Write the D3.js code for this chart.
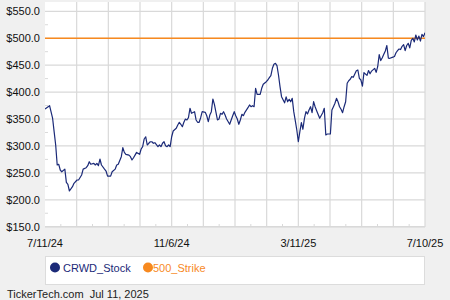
<!DOCTYPE html>
<html>
<head>
<meta charset="utf-8">
<script src="https://cdn.jsdelivr.net/npm/d3@7/dist/d3.min.js"></script>
<style>
  html, body { margin: 0; padding: 0; background: #f0f0f0; }
  svg { display: block; }
  text { font-family: Arial, "Liberation Sans", sans-serif; }
</style>
</head>
<body>
<svg id="chart" width="450" height="300"></svg>
<script>
// ---- data ----
const dayIdx = [0,3,5,6,7,8,9,10,11,13,14,15,16,18,19,21,22,24,25,27,28,29,30,32,33,34,35,36,37,39,40,41,43,44,46,47,48,50,51,
  52,53,55,56,57,58,59,60,62,63,64,65,66,67,68,69,70,71,72,74,75,76,77,78,79,80,81,82,83,84,86,87,88,89,90,91,92,93,94,95,96,98,99,100,101,102,103,105,
  106,107,108,109,110,111,113,114,115,116,117,118,119,121,122,123,124,125,126,127,128,129,130,131,133,134,135,136,137,138,139,140,141,142,143,145,146,147,148,149,150,151,152,153,154,155,
  157,158,159,160,161,162,163,164,165,166,167,168,169,170,171,172,173,174,175,176,177,178,180,182,183,184,185,187,188,189,190,191,192,193,194,195,196,197,198,199,200,201,202,203,204,205,206,207,208,
  209,211,212,213,214,216,217,218,219,220,221,222,223,224,225,226,228,229,230,231,232,233,234,235,236,237,238,239,240,241,242,243,244,245,246,247,248,249];
const price = [368.6,374.7,351,326,301.7,264.6,265.9,255.3,252,257,232.4,228.7,216.3,224.3,230.6,236.7,236.7,246,257,259.6,263.3,270.7,265.9,267.7,264.6,267.7,263.3,275.7,264.6,257,253.4,244,244,252,257,264.6,266,280,296.7,
  288,284.4,283,280,273.9,278,283,288,284.4,294.3,298.6,312.9,317,301.7,304.9,307.8,307.8,304.9,306,298.6,301.7,298.6,304.9,307.8,300.4,298.6,301.7,298.6,317,327.7,332.7,338.9,343.9,340.2,335.7,343.9,350,348.2,352.4,369.9,360.6,363.6,348.2,343.9,343.9,352.4,363.6,362.4,
  356,345,357.4,363.6,387.1,377.3,348.2,350,360.6,358.7,363.6,357.4,350,340.2,348.2,356.1,363.6,356.1,350,340.2,348.2,358.7,356.1,362.4,371,376,372.8,374.7,372.8,407,395.9,395.9,395.9,407,414.4,419.3,422.4,426.7,430.4,444.1,451.6,453.4,449,431.7,410,391.4,
  380,391,382,386.6,382,388.4,363.6,346.9,329.6,307.8,326.4,343.1,330.9,351.3,363.6,359.3,366.7,372.8,361.7,382.1,372.8,365.4,351.3,361.7,369.9,320.3,322.1,322.1,366.7,372.8,379.2,388.4,382.1,372.8,368,361.7,372.8,382.1,416.3,421.1,423.7,428.6,427.4,433.6,439.7,441,425.6,422.4,411,
  436,431,440,434,439,444.1,436.7,447.1,469.5,458.5,463.8,470.2,476.3,486.5,463,462.7,465,466,473,477,480,479,485,488,477,486.5,490.6,482,496,499.8,493,506,496.7,504,494.8,507,503,510];
const strike = 500;
const yTicks = [150, 200, 250, 300, 350, 400, 450, 500, 550];
const xTickLabels = ["7/11/24", "11/6/24", "3/11/25", "7/10/25"];
const seriesNames = ["CRWD_Stock", "500_Strike"];

// ---- layout ----
const svg = d3.select("#chart");
const plot = { left: 45, right: 425, top: 2, bottom: 227 };
const lastIdx = 249;
const x = d3.scaleLinear().domain([0, lastIdx]).range([plot.left, plot.right]);
const y = d3.scaleLinear().domain([150, 550]).range([226.7, 11.3]);
const navy = "#1b2a78";
const orange = "#f7891f";
const grid = "#d9d9d9";

svg.append("rect").attr("x", 0).attr("y", 0).attr("width", 450).attr("height", 300).attr("fill", "#f0f0f0");
svg.append("rect").attr("x", plot.left).attr("y", plot.top)
  .attr("width", plot.right - plot.left).attr("height", plot.bottom - plot.top)
  .attr("fill", "#ffffff");

svg.append("defs").append("clipPath").attr("id", "clip")
  .append("rect").attr("x", plot.left).attr("y", plot.top)
  .attr("width", plot.right - plot.left).attr("height", plot.bottom - plot.top);

// horizontal gridlines
svg.append("g").selectAll("line").data(yTicks).join("line")
  .attr("x1", plot.left).attr("x2", plot.right)
  .attr("y1", d => y(d)).attr("y2", d => y(d))
  .attr("stroke", grid).attr("stroke-width", 1.2);

// y minor ticks
const yMinor = yTicks.slice(0, -1).map(d => d + 25);
svg.append("g").selectAll("line").data(yMinor).join("line")
  .attr("x1", plot.left).attr("x2", plot.left + 3)
  .attr("y1", d => y(d)).attr("y2", d => y(d))
  .attr("stroke", grid).attr("stroke-width", 1);

// vertical gridlines (12 intervals)
const xGrid = d3.range(1, 13).map(k => k * lastIdx / 12);
svg.append("g").selectAll("line").data(xGrid).join("line")
  .attr("x1", d => x(d)).attr("x2", d => x(d))
  .attr("y1", plot.top).attr("y2", plot.bottom)
  .attr("stroke", grid).attr("stroke-width", 1.2);

// x minor ticks
const xMinor = d3.range(0, 12).map(k => (k + 0.5) * lastIdx / 12);
svg.append("g").selectAll("line").data(xMinor).join("line")
  .attr("x1", d => x(d)).attr("x2", d => x(d))
  .attr("y1", plot.bottom - 3).attr("y2", plot.bottom)
  .attr("stroke", grid).attr("stroke-width", 1);

// bottom border
svg.append("line").attr("x1", plot.left).attr("x2", plot.right)
  .attr("y1", plot.bottom).attr("y2", plot.bottom)
  .attr("stroke", grid).attr("stroke-width", 1.2);

// y labels
svg.append("g").selectAll("text").data(yTicks).join("text")
  .attr("x", 40).attr("y", d => y(d)).attr("dy", "0.36em")
  .attr("text-anchor", "end").attr("font-size", 11).attr("fill", "#111")
  .text(d => "$" + d.toFixed(1));

// x labels
const xLabelPos = [0, 4, 8, 12].map(k => k * lastIdx / 12);
svg.append("g").selectAll("text").data(xTickLabels).join("text")
  .attr("x", (d, i) => x(xLabelPos[i])).attr("y", 246.5)
  .attr("text-anchor", "middle").attr("font-size", 11).attr("fill", "#111")
  .text(d => d);

// strike line
svg.append("line").attr("x1", plot.left).attr("x2", plot.right)
  .attr("y1", y(strike)).attr("y2", y(strike))
  .attr("stroke", orange).attr("stroke-width", 1.4);

// stock line
const pts = dayIdx.map((d, i) => [d, price[i]]);
svg.append("path").datum(pts)
  .attr("clip-path", "url(#clip)")
  .attr("fill", "none").attr("stroke", navy).attr("stroke-width", 1.2)
  .attr("stroke-linejoin", "round")
  .attr("d", d3.line().x(d => x(d[0])).y(d => y(d[1])));

// legend
svg.append("rect").attr("x", 45.5).attr("y", 256.5).attr("width", 379).attr("height", 28)
  .attr("fill", "#ffffff").attr("stroke", "#dcdcdc").attr("stroke-width", 1);
const legendItems = [
  { name: seriesNames[0], color: navy, cx: 55, tx: 63 },
  { name: seriesNames[1], color: orange, cx: 148, tx: 153 }
];
const lg = svg.append("g").selectAll("g").data(legendItems).join("g");
lg.append("circle").attr("cx", d => d.cx).attr("cy", 267.5).attr("r", 5).attr("fill", d => d.color);
lg.append("text").attr("x", d => d.tx).attr("y", 271.5).attr("font-size", 11)
  .attr("fill", d => d.color).text(d => d.name);

// footer
svg.append("text").attr("x", 7).attr("y", 297.5).attr("font-size", 11).attr("fill", "#222")
  .style("white-space", "pre")
  .text("TickerTech.com  Jul 11, 2025");
</script>
</body>
</html>
